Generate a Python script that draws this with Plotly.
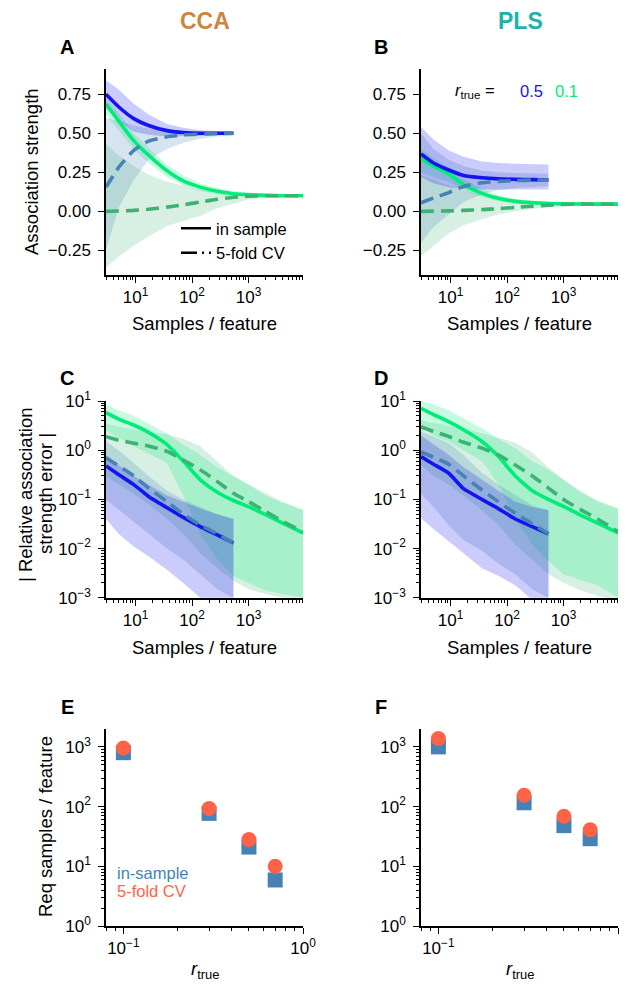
import math
import plotly.graph_objects as go

# ---------------- data ----------------
X_R05 = [3, 5, 9.3, 17, 36, 70, 140, 280, 540]
X_R01 = [3, 5, 9.3, 17, 36, 70, 140, 280, 540, 1000, 2000, 4000, 9200]

# Panel A: CCA association strength
A_r05_in = [0.75, 0.67, 0.594, 0.55, 0.517, 0.505, 0.50, 0.50, 0.50]
A_r05_in_hi = [0.84, 0.78, 0.69, 0.62, 0.56, 0.535, 0.52, 0.515, 0.51]
A_r05_in_lo = [0.66, 0.58, 0.51, 0.49, 0.48, 0.48, 0.485, 0.49, 0.49]
A_r05_cv = [0.155, 0.28, 0.39, 0.45, 0.478, 0.49, 0.495, 0.498, 0.50]
A_r05_cv_hi = [0.60, 0.58, 0.55, 0.53, 0.52, 0.515, 0.51, 0.51, 0.51]
A_r05_cv_lo = [-0.25, 0.02, 0.20, 0.33, 0.40, 0.44, 0.465, 0.48, 0.485]
A_r01_in = [0.687, 0.58, 0.453, 0.36, 0.26, 0.195, 0.155, 0.128, 0.113, 0.106, 0.102, 0.10, 0.10]
A_r01_in_hi = [0.73, 0.63, 0.50, 0.405, 0.30, 0.23, 0.18, 0.15, 0.13, 0.12, 0.112, 0.108, 0.105]
A_r01_in_lo = [0.62, 0.52, 0.40, 0.31, 0.22, 0.165, 0.13, 0.11, 0.10, 0.095, 0.093, 0.093, 0.095]
A_r01_cv = [0.0, 0.002, 0.006, 0.013, 0.027, 0.042, 0.06, 0.077, 0.09, 0.097, 0.10, 0.10, 0.10]
A_r01_cv_hi = [0.43, 0.36, 0.29, 0.235, 0.19, 0.165, 0.14, 0.125, 0.115, 0.11, 0.107, 0.105, 0.104]
A_r01_cv_lo = [-0.36, -0.29, -0.22, -0.16, -0.095, -0.06, -0.03, 0.02, 0.05, 0.075, 0.087, 0.092, 0.095]

# Panel B: PLS association strength
B_r05_in = [0.368, 0.31, 0.265, 0.23, 0.215, 0.208, 0.205, 0.203, 0.20]
B_r05_in_hi = [0.54, 0.46, 0.39, 0.35, 0.32, 0.31, 0.305, 0.30, 0.30]
B_r05_in_lo = [0.22, 0.18, 0.155, 0.145, 0.14, 0.14, 0.14, 0.14, 0.14]
B_r05_cv = [0.055, 0.085, 0.12, 0.16, 0.183, 0.192, 0.197, 0.20, 0.20]
B_r05_cv_hi = [0.50, 0.40, 0.33, 0.29, 0.26, 0.25, 0.245, 0.24, 0.24]
B_r05_cv_lo = [-0.20, -0.10, -0.02, 0.06, 0.11, 0.135, 0.15, 0.155, 0.16]
B_r01_in = [0.34, 0.29, 0.24, 0.17, 0.115, 0.083, 0.064, 0.055, 0.05, 0.048, 0.047, 0.046, 0.046]
B_r01_in_hi = [0.40, 0.34, 0.28, 0.205, 0.145, 0.105, 0.08, 0.068, 0.061, 0.058, 0.056, 0.055, 0.055]
B_r01_in_lo = [0.25, 0.22, 0.19, 0.135, 0.09, 0.065, 0.05, 0.043, 0.04, 0.039, 0.038, 0.038, 0.038]
B_r01_cv = [0.0, 0.001, 0.003, 0.006, 0.011, 0.017, 0.025, 0.033, 0.04, 0.044, 0.046, 0.046, 0.046]
B_r01_cv_hi = [0.23, 0.20, 0.165, 0.135, 0.105, 0.085, 0.07, 0.062, 0.057, 0.055, 0.053, 0.052, 0.052]
B_r01_cv_lo = [-0.29, -0.22, -0.14, -0.09, -0.05, -0.02, 0.0, 0.015, 0.028, 0.034, 0.038, 0.04, 0.04]

# Panel C: CCA relative error
C_r05_in = [0.48, 0.32, 0.20, 0.115, 0.068, 0.043, 0.028, 0.019, 0.013]
C_r05_in_hi = [0.8, 0.5, 0.3, 0.2, 0.12, 0.09, 0.065, 0.05, 0.04]
C_r05_in_lo = [0.04, 0.02, 0.011, 0.007, 0.0037, 0.002, 0.001, 0.0006, 0.0005]
C_r05_cv = [0.70, 0.48, 0.30, 0.17, 0.09, 0.05, 0.03, 0.02, 0.013]
C_r05_cv_hi = [1.5, 1.0, 0.55, 0.3, 0.15, 0.1, 0.07, 0.05, 0.04]
C_r05_cv_lo = [0.1, 0.06, 0.035, 0.02, 0.01, 0.006, 0.003, 0.0015, 0.001]
C_r01_in = [5.8, 4.3, 3.25, 2.3, 1.3, 0.6, 0.25, 0.14, 0.095, 0.071, 0.049, 0.033, 0.021]
C_r01_in_hi = [8.5, 6.5, 5.0, 3.5, 2.2, 1.3, 0.8, 0.45, 0.3, 0.2, 0.12, 0.085, 0.06]
C_r01_in_lo = [2.5, 1.8, 1.2, 0.85, 0.55, 0.12, 0.02, 0.006, 0.0028, 0.002, 0.0014, 0.0012, 0.001]
C_r01_cv = [1.88, 1.6, 1.38, 1.22, 0.95, 0.63, 0.40, 0.23, 0.133, 0.09, 0.057, 0.036, 0.022]
C_r01_cv_hi = [3.5, 3.0, 2.6, 2.3, 2.1, 1.7, 1.2, 0.6, 0.3, 0.2, 0.135, 0.09, 0.062]
C_r01_cv_lo = [0.3, 0.2, 0.13, 0.08, 0.04, 0.02, 0.008, 0.004, 0.0022, 0.0015, 0.0012, 0.001, 0.0009]

# Panel D: PLS relative error
D_r05_in = [0.74, 0.52, 0.34, 0.165, 0.10, 0.065, 0.04, 0.028, 0.02]
D_r05_in_hi = [2.0, 1.3, 0.8, 0.45, 0.25, 0.15, 0.09, 0.07, 0.06]
D_r05_in_lo = [0.042, 0.025, 0.014, 0.008, 0.004, 0.0028, 0.0018, 0.0009, 0.0005]
D_r05_cv = [0.92, 0.72, 0.52, 0.30, 0.155, 0.09, 0.052, 0.032, 0.02]
D_r05_cv_hi = [2.4, 1.9, 1.4, 0.8, 0.35, 0.2, 0.12, 0.075, 0.06]
D_r05_cv_lo = [0.13, 0.07, 0.03, 0.015, 0.009, 0.005, 0.003, 0.0015, 0.001]
D_r01_in = [7.1, 5.3, 3.8, 2.6, 1.5, 0.75, 0.3, 0.15, 0.1, 0.072, 0.048, 0.033, 0.021]
D_r01_in_hi = [10.0, 8.5, 6.5, 4.5, 2.8, 1.7, 1.1, 0.6, 0.4, 0.25, 0.14, 0.09, 0.065]
D_r01_in_lo = [3.0, 2.0, 1.5, 1.0, 0.6, 0.2, 0.04, 0.012, 0.0055, 0.003, 0.0023, 0.0018, 0.001]
D_r01_cv = [3.0, 2.4, 1.9, 1.45, 1.1, 0.8, 0.5, 0.3, 0.17, 0.10, 0.062, 0.04, 0.022]
D_r01_cv_hi = [4.0, 3.6, 3.2, 2.8, 2.2, 1.8, 1.4, 0.9, 0.45, 0.25, 0.15, 0.095, 0.065]
D_r01_cv_lo = [0.5, 0.3, 0.2, 0.12, 0.06, 0.03, 0.012, 0.006, 0.003, 0.002, 0.0014, 0.0011, 0.0008]

# Panels E/F: required samples per feature
R_TRUE = [0.1, 0.3, 0.5, 0.7]
CCA_REQ_IN = [800, 77, 21, 5.9]
CCA_REQ_CV = [960, 93, 28, 10]
PLS_REQ_IN = [1000, 116, 48, 29]
PLS_REQ_CV = [1380, 155, 69, 41]

# ---------------- styles ----------------
FONT = "Liberation Sans, Arial, Helvetica, sans-serif"
W, H = 630, 987
C_BLUE = "#1414f0"
C_STEEL = "#4682b4"
C_SPRING = "#00ec78"
C_SEA = "#3cb371"
F_BLUE = "rgba(20,20,240,0.22)"
F_STEEL = "rgba(70,130,180,0.22)"
F_SPRING = "rgba(0,236,120,0.22)"
F_SEA = "rgba(60,179,113,0.2)"
DASH = "13px,7px"
LW = 3.6


def P(x, y):
    return x / W, 1 - y / H


fig = go.Figure()


def band(x, lo, hi, color, n):
    fig.add_trace(go.Scatter(
        x=list(x) + list(x)[::-1], y=list(hi) + list(lo)[::-1],
        fill="toself", fillcolor=color, line=dict(width=0),
        mode="lines", hoverinfo="skip", showlegend=False,
        xaxis=f"x{n}", yaxis=f"y{n}"))


def line(x, y, color, dash, n):
    fig.add_trace(go.Scatter(
        x=x, y=y, mode="lines",
        line=dict(color=color, width=LW, dash=dash, shape="spline", smoothing=0.5),
        hoverinfo="skip", showlegend=False, xaxis=f"x{n}", yaxis=f"y{n}"))


panels = [
    (1, A_r05_in, A_r05_in_lo, A_r05_in_hi, A_r05_cv, A_r05_cv_lo, A_r05_cv_hi,
     A_r01_in, A_r01_in_lo, A_r01_in_hi, A_r01_cv, A_r01_cv_lo, A_r01_cv_hi),
    (2, B_r05_in, B_r05_in_lo, B_r05_in_hi, B_r05_cv, B_r05_cv_lo, B_r05_cv_hi,
     B_r01_in, B_r01_in_lo, B_r01_in_hi, B_r01_cv, B_r01_cv_lo, B_r01_cv_hi),
    (3, C_r05_in, C_r05_in_lo, C_r05_in_hi, C_r05_cv, C_r05_cv_lo, C_r05_cv_hi,
     C_r01_in, C_r01_in_lo, C_r01_in_hi, C_r01_cv, C_r01_cv_lo, C_r01_cv_hi),
    (4, D_r05_in, D_r05_in_lo, D_r05_in_hi, D_r05_cv, D_r05_cv_lo, D_r05_cv_hi,
     D_r01_in, D_r01_in_lo, D_r01_in_hi, D_r01_cv, D_r01_cv_lo, D_r01_cv_hi),
]

for (n, b_in, b_in_lo, b_in_hi, b_cv, b_cv_lo, b_cv_hi,
     g_in, g_in_lo, g_in_hi, g_cv, g_cv_lo, g_cv_hi) in panels:
    band(X_R01, g_cv_lo, g_cv_hi, F_SEA, n)
    band(X_R01, g_in_lo, g_in_hi, F_SPRING, n)
    band(X_R05, b_cv_lo, b_cv_hi, F_STEEL, n)
    band(X_R05, b_in_lo, b_in_hi, F_BLUE, n)
    line(X_R01, g_in, C_SPRING, "solid", n)
    line(X_R01, g_cv, C_SEA, DASH, n)
    line(X_R05, b_in, C_BLUE, "solid", n)
    line(X_R05, b_cv, C_STEEL, DASH, n)

for n, req_in, req_cv in [(5, CCA_REQ_IN, CCA_REQ_CV), (6, PLS_REQ_IN, PLS_REQ_CV)]:
    fig.add_trace(go.Scatter(x=R_TRUE, y=req_in, mode="markers",
                             marker=dict(symbol="square", size=15, color=C_STEEL),
                             showlegend=False, xaxis=f"x{n}", yaxis=f"y{n}"))
    fig.add_trace(go.Scatter(x=R_TRUE, y=req_cv, mode="markers",
                             marker=dict(symbol="circle", size=15, color="#ff6347"),
                             showlegend=False, xaxis=f"x{n}", yaxis=f"y{n}"))

# legend entries (panel A)
fig.add_trace(go.Scatter(x=[None], y=[None], mode="lines", name="in sample",
                         line=dict(color="black", width=2.5), xaxis="x", yaxis="y"))
fig.add_trace(go.Scatter(x=[None], y=[None], mode="lines", name="5-fold CV",
                         line=dict(color="black", width=2.5, dash="16px,5px,2px,5px"),
                         xaxis="x", yaxis="y"))

# ---------------- axes ----------------
def sup(e):
    return "10<sup>" + e + "</sup>"


XS_MINOR = [v * 10 ** k for k in range(0, 4) for v in range(2, 10) if 3 <= v * 10 ** k <= 9200]
ERR_MINOR = [v * 10.0 ** k for k in range(-3, 1) for v in range(2, 10)]
REQ_MINOR = [v * 10.0 ** k for k in range(0, 4) for v in range(2, 10) if v * 10 ** k < 2000]
R_MINOR = [0.08, 0.09] + [v / 10 for v in range(2, 10)]

COL_X = [(106, 303), (421, 618)]
ROW_Y = [(69, 275), (401, 597.8), (729, 926)]

common = dict(showline=True, linecolor="black", linewidth=1.5, ticks="outside",
              ticklen=6, tickwidth=1.3, tickcolor="black", showgrid=False,
              zeroline=False, automargin=False,
              tickfont=dict(family=FONT, size=17, color="black"))


def minor(vals):
    return dict(tickmode="array", tickvals=vals, ticks="outside", ticklen=3.5,
                tickwidth=1, tickcolor="black", showgrid=False)


layout_axes = {}
for n in range(1, 7):
    row = (n - 1) // 2
    col = (n - 1) % 2
    x0, x1 = COL_X[col]
    yt, yb = ROW_Y[row]
    xkey = "xaxis" if n == 1 else f"xaxis{n}"
    ykey = "yaxis" if n == 1 else f"yaxis{n}"
    xa = dict(common, domain=[x0 / W, x1 / W], anchor="y" if n == 1 else f"y{n}")
    ya = dict(common, domain=[1 - yb / H, 1 - yt / H], anchor="x" if n == 1 else f"x{n}",
              ticklabelstandoff=4)
    if row < 2:
        xa.update(type="log", range=[math.log10(3), math.log10(9200)],
                  tickvals=[10, 100, 1000], ticktext=[sup("1"), sup("2"), sup("3")],
                  minor=minor(XS_MINOR))
    else:
        xa.update(type="log", range=[math.log10(0.08), 0],
                  tickvals=[0.1, 1], ticktext=[sup("−1"), sup("0")],
                  minor=minor(R_MINOR))
    if row == 0:
        ya.update(range=[-0.408, 0.912], tickvals=[-0.25, 0, 0.25, 0.5, 0.75],
                  ticktext=["−0.25", "0.00", "0.25", "0.50", "0.75"])
    elif row == 1:
        ya.update(type="log", range=[-3, 1], tickvals=[0.001, 0.01, 0.1, 1, 10],
                  ticktext=[sup("−3"), sup("−2"), sup("−1"), sup("0"), sup("1")],
                  minor=minor(ERR_MINOR))
    else:
        ya.update(type="log", range=[0, 3.3], tickvals=[1, 10, 100, 1000],
                  ticktext=[sup("0"), sup("1"), sup("2"), sup("3")],
                  minor=minor(REQ_MINOR))
    layout_axes[xkey] = xa
    layout_axes[ykey] = ya

# ---------------- annotations ----------------
ann = []


def text(x, y, s, size=16, color="black", xanchor="center", yanchor="middle", angle=0):
    px, py = P(x, y)
    ann.append(dict(x=px, y=py, xref="paper", yref="paper", text=s, showarrow=False,
                    xanchor=xanchor, yanchor=yanchor, textangle=angle,
                    font=dict(family=FONT, size=size, color=color)))


text(205, 21, "<b>CCA</b>", 23, "#cd853f")
text(520, 21, "<b>PLS</b>", 23, "#20b2aa")
for lbl, x, y in [("A", 67, 47), ("B", 381, 47), ("C", 67, 378), ("D", 381, 378),
                  ("E", 67, 707), ("F", 381, 707)]:
    text(x, y, f"<b>{lbl}</b>", 20)

for cx in (204.5, 519.5):
    text(cx, 324, "Samples / feature", 18.5)
    text(cx, 647, "Samples / feature", 18.5)
    text(cx, 970, "<i>r</i><sub>true</sub>", 18.5)

text(31, 172, "Association strength", 18.5, angle=-90)
text(25, 495, "| Relative association", 18.5, angle=-90)
text(45, 494, "strength error |", 18.5, angle=-90)
text(45, 827, "Req samples / feature", 18.5, angle=-90)

text(453, 91, "<i>r</i><sub>true</sub> =", 16.5, xanchor="left")
text(518, 91, "0.5", 16.5, C_BLUE, xanchor="left")
text(553, 91, "0.1", 16.5, C_SPRING, xanchor="left")

text(115, 873, "in-sample", 16.5, C_STEEL, xanchor="left")
text(115, 891, "5-fold CV", 16.5, "#ff6347", xanchor="left")

lx, ly = P(176, 211)
fig.update_layout(
    width=W, height=H, margin=dict(l=0, r=0, t=0, b=0),
    paper_bgcolor="white", plot_bgcolor="rgba(0,0,0,0)",
    font=dict(family=FONT, color="black"),
    showlegend=True,
    legend=dict(x=lx, y=ly, xanchor="left", yanchor="top", bgcolor="rgba(0,0,0,0)",
                font=dict(family=FONT, size=16.5), tracegroupgap=0, itemwidth=30),
    annotations=ann,
    **layout_axes,
)

fig.write_html("out.html")
